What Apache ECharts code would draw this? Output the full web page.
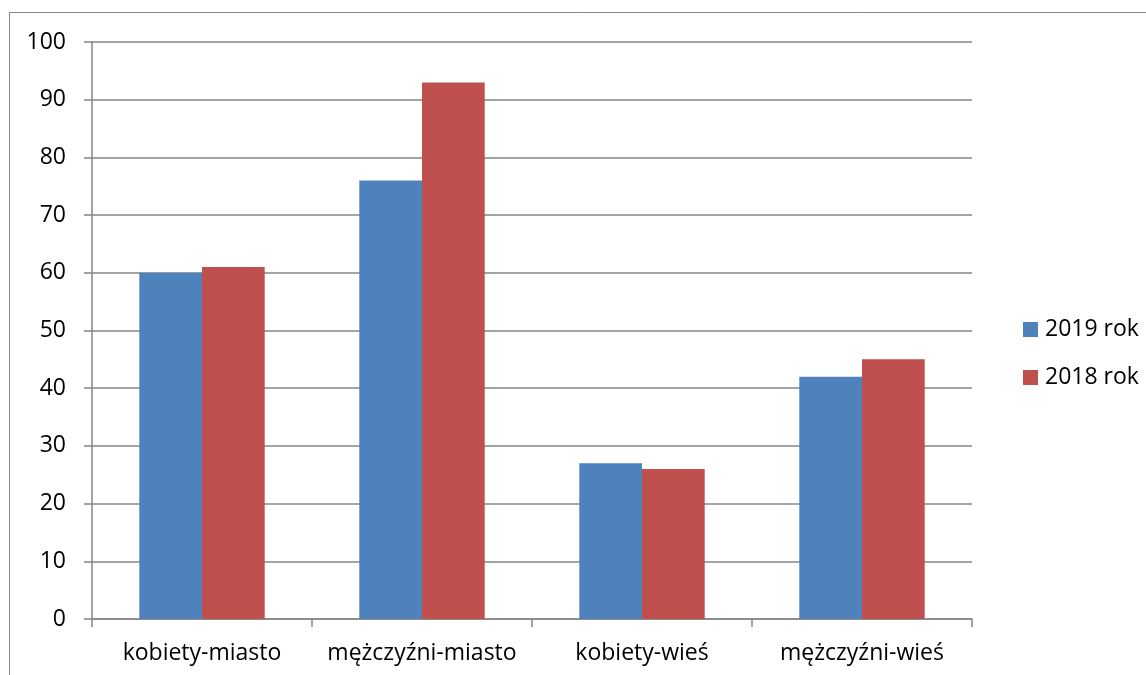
<!DOCTYPE html>
<html><head><meta charset="utf-8">
<script src="https://cdn.jsdelivr.net/npm/echarts@6/dist/echarts.min.js"></script>
<style>html,body{margin:0;padding:0;background:#fff}#c{width:1146px;height:675px}</style>
</head><body><div id="c"></div>
<script>
const categories = ['kobiety-miasto', 'mężczyźni-miasto', 'kobiety-wieś', 'mężczyźni-wieś'];
const values2019 = [60, 76, 27, 42];
const values2018 = [61, 93, 26, 45];
const seriesNames = ['2019 rok', '2018 rok'];
const font = '"Open Sans", sans-serif';
const chart = echarts.init(document.getElementById('c'));
chart.setOption({
  animation: false,
  backgroundColor: '#fff',
  graphic: [{type: 'rect', shape: {x: 9.5, y: 12.5, width: 1300, height: 800}, style: {fill: 'none', stroke: '#868686', lineWidth: 1}}],
  grid: {left: 92, right: 174, top: 42, bottom: 56},
  legend: {
    orient: 'vertical', left: 1018, top: 313, itemWidth: 15, itemHeight: 15, itemGap: 25,
    icon: 'rect', textStyle: {fontFamily: font, fontSize: 23, color: '#000', padding: [0, 0, 0, 2]},
    data: seriesNames
  },
  xAxis: {
    type: 'category', data: categories,
    axisLine: {lineStyle: {color: '#868686', width: 1.5}},
    axisTick: {show: true, interval: 0, length: 8, lineStyle: {color: '#868686', width: 1.5}},
    axisLabel: {interval: 0, hideOverlap: false, fontFamily: font, fontSize: 23, color: '#000', margin: 23}
  },
  yAxis: {
    type: 'value', min: 0, max: 100, interval: 10,
    axisLine: {show: true, lineStyle: {color: '#868686', width: 1.5}},
    axisTick: {show: true, length: 8, lineStyle: {color: '#868686', width: 1.5}},
    splitLine: {lineStyle: {color: '#868686', width: 1.5}},
    axisLabel: {fontFamily: font, fontSize: 23, color: '#000', margin: 26}
  },
  series: [
    {name: seriesNames[0], type: 'bar', data: values2019, barGap: '0%', barCategoryGap: '43%', itemStyle: {color: '#4F81BD'}},
    {name: seriesNames[1], type: 'bar', data: values2018, itemStyle: {color: '#C0504D'}}
  ]
});
</script></body></html>
